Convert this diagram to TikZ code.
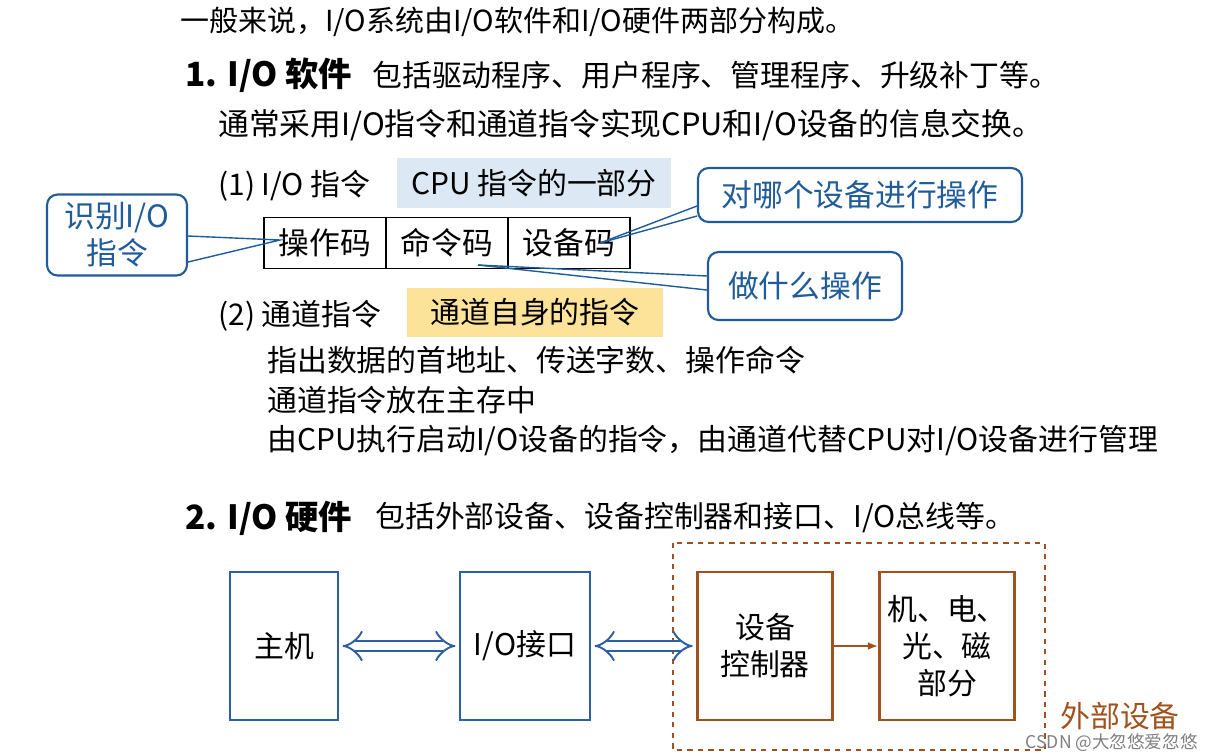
\documentclass[tikz,border=0pt]{standalone}
\usepackage{fontspec}
\setmainfont{Noto Sans CJK SC}
\usetikzlibrary{arrows.meta}
\definecolor{bl}{HTML}{1F5C99}
\definecolor{bx}{HTML}{2E5FA0}
\definecolor{br}{HTML}{A0521E}
\definecolor{lb}{HTML}{DCE9F5}
\definecolor{ly}{HTML}{FDE39A}
\begin{document}
\begin{tikzpicture}[x=0.02cm,y=-0.02cm,
  txt/.style={anchor=west,inner sep=0,font=\fontsize{17}{19}\selectfont},
  cell/.style={draw,thick,minimum width=2.44cm,minimum height=1.02cm,font=\fontsize{17.5}{19}\selectfont,inner sep=0},
  call/.style={draw=bl,line width=1.2pt,rounded corners=6pt,fill=white,text=bl,font=\fontsize{17.5}{21}\selectfont,align=center,inner sep=0},
  hw/.style={draw=bx,line width=1.2pt,minimum width=2.16cm,minimum height=2.96cm,font=\fontsize{17}{21}\selectfont,align=center,inner sep=0},
  dev/.style={draw=br,line width=1.4pt,minimum width=2.7cm,minimum height=2.96cm,font=\fontsize{17}{21}\selectfont,align=center,inner sep=0},
  dar/.style={draw=bx,double=white,double distance=5pt,line width=1.1pt,{Implies}-{Implies}}]
\useasboundingbox (0,0) rectangle (1213,755);
\fill[white] (0,0) rectangle (1213,755);
\node[txt,font=\fontsize{16.5}{19}\selectfont] (t0) at (180,22) {一般来说，I/O系统由I/O软件和I/O硬件两部分构成。};
\node[txt,font=\fontsize{19}{20}\selectfont\bfseries] (t1) at (185,75) {1. I/O 软件};
\node[txt] (t1b) at (372,75) {包括驱动程序、用户程序、管理程序、升级补丁等。};
\node[txt,font=\fontsize{17.5}{19}\selectfont] (t2) at (218,125) {通常采用I/O指令和通道指令实现CPU和I/O设备的信息交换。};
\node[txt] (t3) at (218,186) {(1) I/O 指令};
\node[fill=lb,minimum width=5.5cm,minimum height=1cm,font=\fontsize{17}{19}\selectfont,inner sep=0] (cpu) at (534,183) {CPU 指令的一部分};
\node[cell] (c1) at (325,243) {操作码};
\node[cell] (c2) at (447,243) {命令码};
\node[cell] (c3) at (569,243) {设备码};
\node[call,minimum width=2.8cm,minimum height=1.62cm] (k1) at (117,235) {识别I/O\\指令};
\node[call,minimum width=6.48cm,minimum height=1.08cm] (k2) at (860,195) {对哪个设备进行操作};
\node[call,minimum width=3.88cm,minimum height=1.36cm] (k3) at (805,286) {做什么操作};
\coordinate (p1) at (280,240);
\coordinate (p2) at (600,243);
\coordinate (p3) at (478,265);
\draw[bl,thick] (k1.east |- 0,236) -- (p1) -- (k1.east |- 0,262);
\draw[bl,thick] (p2) -- (k2.west |- 0,206); \draw[bl,thick] (p2) -- (k2.west |- 0,216);
\draw[bl,thick] (p3) -- (k3.west |- 0,276); \draw[bl,thick] (p3) -- (k3.west |- 0,290);
\node[txt] (t4) at (218,316) {(2) 通道指令};
\node[fill=ly,minimum width=5.14cm,minimum height=0.98cm,font=\fontsize{17}{19}\selectfont,inner sep=0] (ch) at (535,312) {通道自身的指令};
\node[txt] (t5) at (267,360) {指出数据的首地址、传送字数、操作命令};
\node[txt] (t6) at (267,400) {通道指令放在主存中};
\node[txt] (t7) at (267,441) {由CPU执行启动I/O设备的指令，由通道代替CPU对I/O设备进行管理};
\node[txt,font=\fontsize{19}{20}\selectfont\bfseries] (t8) at (185,518) {2. I/O 硬件};
\node[txt] (t8b) at (375,518) {包括外部设备、设备控制器和接口、I/O总线等。};
\draw[br,line width=1.2pt,dashed] (673,543) rectangle (1045,750);
\node[hw] (h1) at (284,646) {主机};
\node[hw,minimum width=2.6cm] (h2) at (525,646) {I/O接口};
\node[dev] (d1) at (765,646) {设备\\控制器};
\node[dev] (d2) at (947,646) {机、电、\\光、磁\\部分};
\draw[dar] ([xshift=2pt]h1.east) -- ([xshift=-2pt]h2.west);
\draw[dar] ([xshift=2pt]h2.east) -- ([xshift=-2pt]d1.west);
\draw[br,line width=1.2pt,-{Latex[length=6pt]}] (d1.east) -- (d2.west);
\node[anchor=west,text=br,font=\fontsize{17}{18}\selectfont,inner sep=0] (ext) at (1060,716) {外部设备};
\node[anchor=east,text=gray,font=\fontsize{10}{12}\selectfont,inner sep=0] (wm) at (1198,743) {CSDN @大忽悠爱忽悠};
\end{tikzpicture}
\end{document}
